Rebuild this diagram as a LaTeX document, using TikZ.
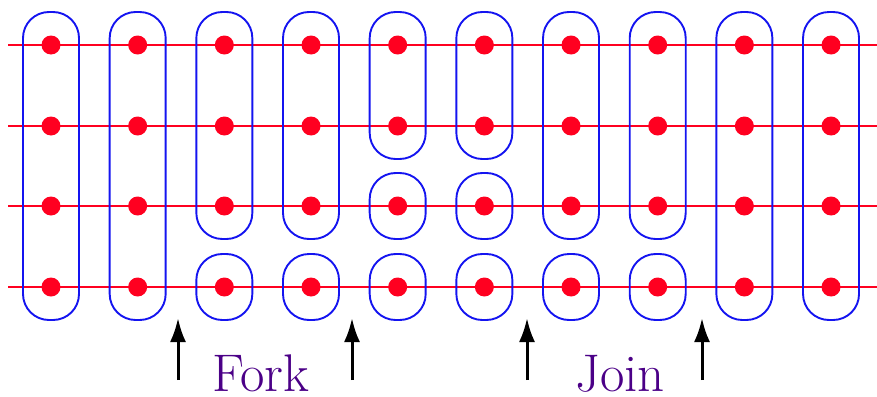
\documentclass[tikz,border=0pt]{standalone}
\usetikzlibrary{arrows.meta}
\definecolor{dotred}{RGB}{255,0,32}
\definecolor{boxblue}{RGB}{20,20,240}
\definecolor{labpurple}{RGB}{75,0,135}
\begin{document}
\begin{tikzpicture}[x=0.5pt,y=-0.5pt,
  rowline/.style={draw=dotred,line width=0.9pt},
  dotnode/.style={circle,fill=dotred,inner sep=0pt,minimum size=9.5pt},
  grp/.style={draw=boxblue,line width=0.95pt,rounded corners=13pt},
  uparrow/.style={-{Latex[length=12pt,width=8pt]},line width=1.5pt,black},
  lab/.style={text=labpurple,font=\fontsize{26.5}{30}\selectfont,anchor=base,inner sep=0pt}]
\useasboundingbox (0,0) rectangle (877,396);
% rows
\foreach \r/\y in {1/45,2/126,3/206,4/287}{
  \coordinate (L\r) at (8,\y);
  \coordinate (R\r) at (877,\y);
  \draw[rowline] (L\r) -- (R\r);
}
% dots
\foreach \c in {1,...,10}{
  \foreach \r/\y in {1/45,2/126,3/206,4/287}{
    \node[dotnode] (d-\c-\r) at ({51+86.67*(\c-1)},\y) {};
  }
}
% groups
\foreach \c/\a/\b in {1/1/4,2/1/4,3/1/3,3/4/4,4/1/3,4/4/4,5/1/2,5/3/3,5/4/4,6/1/2,6/3/3,6/4/4,7/1/3,7/4/4,8/1/3,8/4/4,9/1/4,10/1/4}{
  \draw[grp] ([shift={(-28,-33)}]d-\c-\a.center) rectangle ([shift={(28,33)}]d-\c-\b.center);
}
% arrows
\foreach \i/\x in {1/178,2/352,3/527,4/702}{
  \coordinate (ab\i) at (\x,380);
  \coordinate (at\i) at (\x,318);
  \draw[uparrow] (ab\i) -- (at\i);
}
\node[lab] (fork) at (261,391) {Fork};
\node[lab] (join) at (620,391) {Join};
\end{tikzpicture}
\end{document}
